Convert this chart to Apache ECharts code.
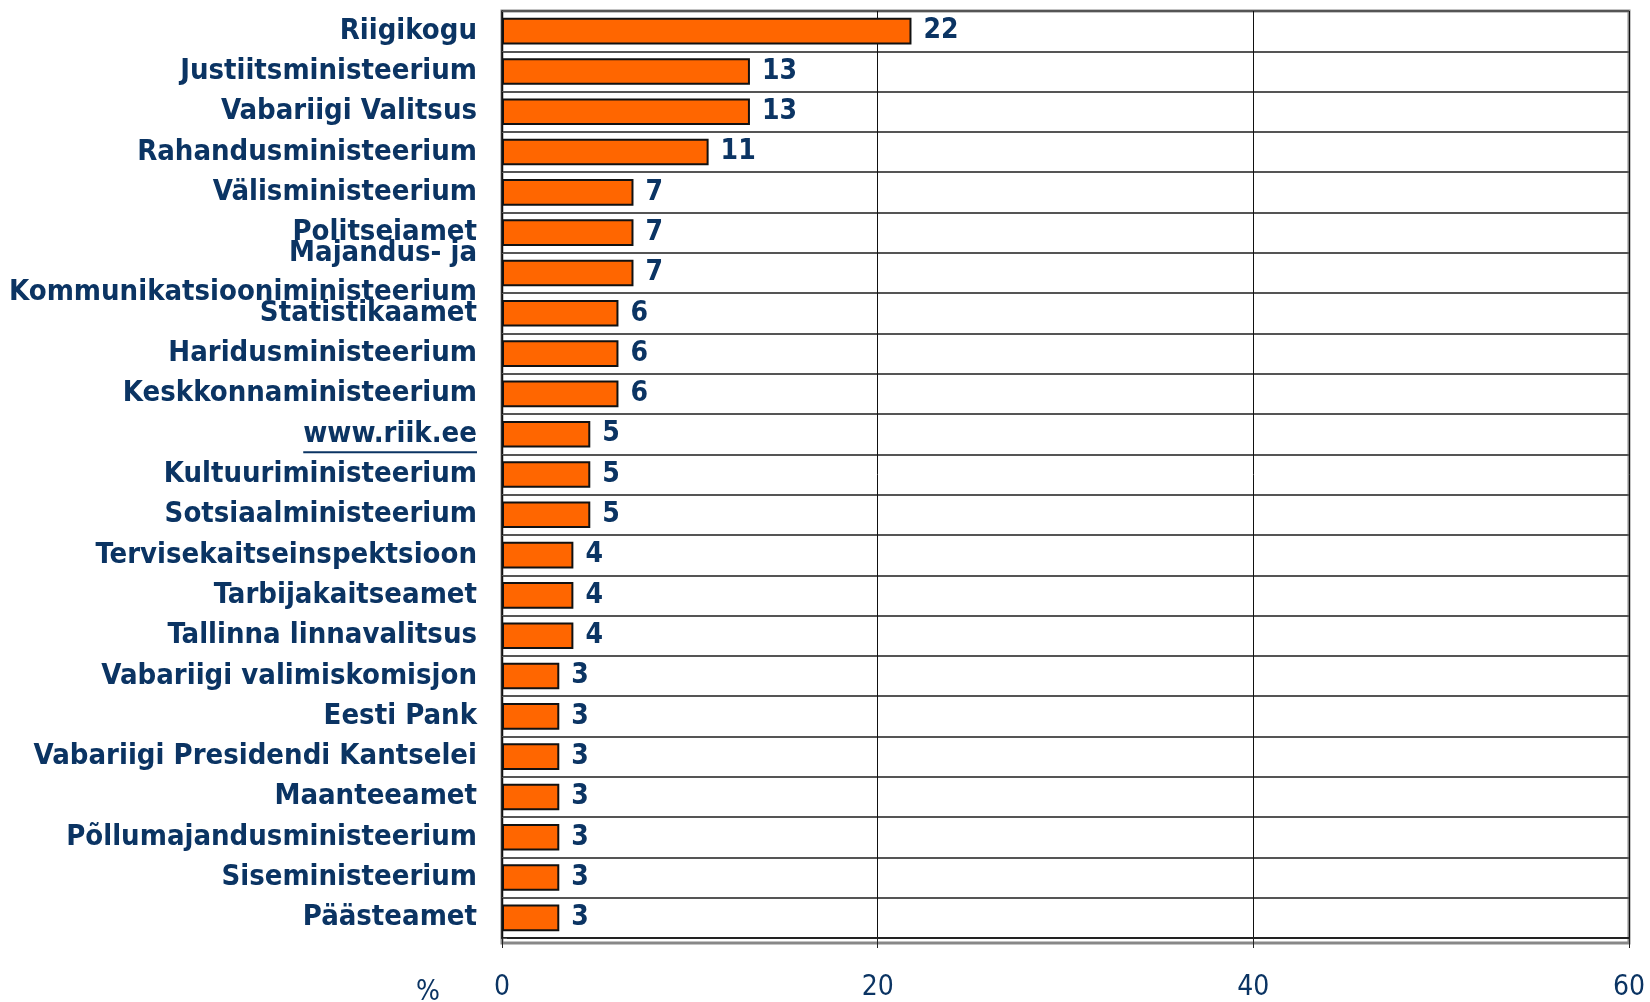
<!DOCTYPE html>
<html>
<head>
<meta charset="utf-8">
<script src="https://cdn.jsdelivr.net/npm/echarts@6/dist/echarts.min.js"></script>
<style>
html, body { margin: 0; padding: 0; background: #fff; }
#chart { width: 1650px; height: 1002px; }
</style>
</head>
<body>
<div id="chart"></div>
<script>
// categories, top to bottom
const categories = [
  'Riigikogu', 'Justiitsministeerium', 'Vabariigi Valitsus', 'Rahandusministeerium',
  'Välisministeerium', 'Politseiamet', 'Majandus- ja\nKommunikatsiooniministeerium',
  'Statistikaamet', 'Haridusministeerium', 'Keskkonnaministeerium', 'www.riik.ee',
  'Kultuuriministeerium', 'Sotsiaalministeerium', 'Tervisekaitseinspektsioon',
  'Tarbijakaitseamet', 'Tallinna linnavalitsus', 'Vabariigi valimiskomisjon',
  'Eesti Pank', 'Vabariigi Presidendi Kantselei', 'Maanteeamet',
  'Põllumajandusministeerium', 'Siseministeerium', 'Päästeamet'
]
// bar lengths (%)
const values = [21.8, 13.2, 13.2, 11, 7, 7, 7, 6.2, 6.2, 6.2, 4.7, 4.7, 4.7, 3.8, 3.8, 3.8, 3.05, 3.05, 3.05, 3.05, 3.05, 3.05, 3.05]
// printed labels
const labels = [22, 13, 13, 11, 7, 7, 7, 6, 6, 6, 5, 5, 5, 4, 4, 4, 3, 3, 3, 3, 3, 3, 3]
const xTicks = [0, 20, 40, 60]

const navy = '#0b3463'
const font = '"DejaVu Sans Condensed", "Liberation Sans Narrow", sans-serif'

const myChart = echarts.init(document.getElementById('chart'))
const option = {
  animation: false,
  title: {
    text: '%',
    left: 411,
    top: 974,
    textStyle: { color: navy, fontFamily: font, fontSize: 28, fontWeight: 'normal' }
  },
  grid: { left: 502, right: 21, top: 11, bottom: 59 },
  xAxis: {
    type: 'value',
    min: 0,
    max: 60,
    interval: 20,
    axisLine: { show: true, lineStyle: { color: '#222', width: 2 } },
    axisTick: { show: true, length: 10, lineStyle: { color: '#222' } },
    axisLabel: {
      margin: 36,
      color: navy,
      fontFamily: font,
      fontSize: 28,
      formatter: v => xTicks.includes(v) ? String(v) : ''
    },
    splitLine: { show: true, lineStyle: { color: '#111', width: 1 } }
  },
  yAxis: {
    type: 'category',
    inverse: true,
    data: categories,
    axisLine: { show: true, onZero: false, lineStyle: { color: '#111', width: 1.5 } },
    axisTick: { show: true, inside: true, length: 5, lineStyle: { color: '#555' } },
    axisLabel: {
      interval: 0,
      showMinLabel: true,
      showMaxLabel: true,
      hideOverlap: false,
      margin: 25,
      color: navy,
      fontFamily: font,
      fontSize: 29,
      fontWeight: 'bold',
      lineHeight: 39,
      padding: [5, 0, 0, 0]
    },
    splitLine: { show: true, lineStyle: { color: '#555', width: 2 } }
  },
  series: [{
    type: 'bar',
    data: values,
    barCategoryGap: '34%',
    itemStyle: { color: '#ff6600', borderColor: '#111', borderWidth: 2 },
    label: {
      show: true,
      position: 'right',
      distance: 12,
      color: navy,
      fontFamily: font,
      fontSize: 28,
      fontWeight: 'bold',
      formatter: p => String(labels[p.dataIndex])
    }
  }],
  graphic: [{
    type: 'rect',
    shape: { x: 502, y: 11, width: 1127, height: 932 },
    style: { fill: 'none', stroke: '#888', lineWidth: 3 },
    silent: true,
    z: 0
  }]
}
myChart.setOption(option)

// underline for the www.riik.ee label
const idx = categories.indexOf('www.riik.ee')
const y = myChart.convertToPixel({ yAxisIndex: 0 }, idx)
const ctx = document.createElement('canvas').getContext('2d')
ctx.font = 'bold 29px ' + font
const w = ctx.measureText('www.riik.ee').width
myChart.setOption({
  graphic: [{}, {
    type: 'line',
    shape: { x1: 477 - w, y1: y + 18, x2: 477, y2: y + 18 },
    style: { stroke: navy, lineWidth: 2 },
    silent: true
  }]
})
window.addEventListener('resize', function () { myChart.resize() })
</script>
</body>
</html>
